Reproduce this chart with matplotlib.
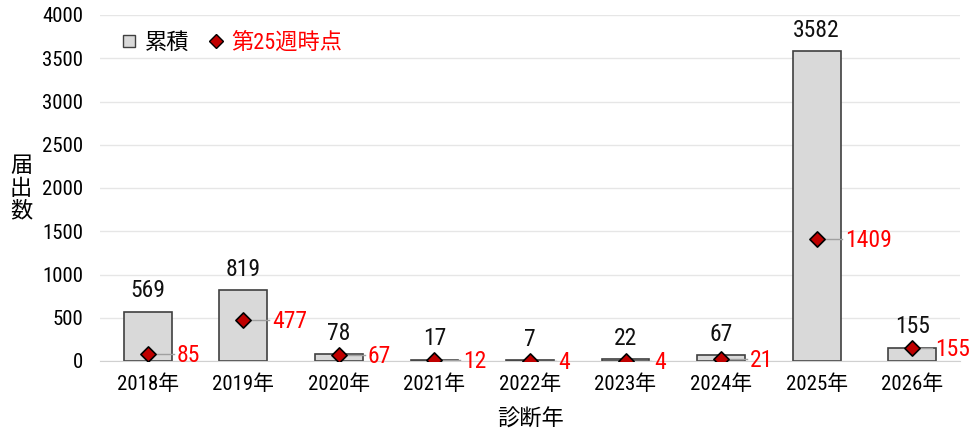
import matplotlib
matplotlib.use("Agg")
import matplotlib.pyplot as plt
from matplotlib.lines import Line2D

plt.rcParams['font.family'] = ['Roboto Condensed', 'Noto Sans CJK JP', 'DejaVu Sans']

years = ["2018年", "2019年", "2020年", "2021年", "2022年", "2023年", "2024年", "2025年", "2026年"]
cumulative = [569, 819, 78, 17, 7, 22, 67, 3582, 155]
week25 = [85, 477, 67, 12, 4, 4, 21, 1409, 155]

fig = plt.figure(figsize=(9.71, 4.34), dpi=100)
ax = fig.add_axes([100/971, 1-361/434, 860/971, (361-15)/434])

x = list(range(len(years)))
ax.bar(x, cumulative, width=0.5, color="#d9d9d9", edgecolor="#404040", linewidth=1.2, zorder=2)

n = len(x)
for xi, c, w in zip(x, cumulative, week25):
    off = 0.24 if xi == n - 1 else 0.3
    ax.text(xi, c + 110, str(c), ha="center", va="bottom", fontsize=17, color="#111111")
    ax.plot([xi, xi + off - 0.03], [w, w], color="#a0a0a0", lw=1, zorder=3)
    ax.text(xi + off, w - 20, str(w), ha="left", va="center", fontsize=17, color="#ff0000", clip_on=False)

ax.scatter(x, week25, marker="D", s=60, color="#c00000", edgecolor="black", linewidth=1.2, zorder=4)

ax.set_xlim(-0.5, 8.5)
ax.set_ylim(0, 4000)
ax.set_yticks(range(0, 4001, 500))
ax.set_xticks(x)
ax.set_xticklabels(years)
ax.tick_params(axis="both", length=0, labelsize=15)
ax.tick_params(axis="x", pad=10)
ax.tick_params(axis="y", pad=12)
ax.grid(axis="y", color="#e6e6e6", lw=1, zorder=0)
ax.set_axisbelow(True)
for s in ["top", "right", "left"]:
    ax.spines[s].set_visible(False)
ax.spines["bottom"].set_color("#d0d0d0")

ax.set_xlabel("診断年", fontsize=16, labelpad=11)
fig.text(21/971, 1-189/434, "届\n出\n数", ha="center", va="center", fontsize=16, linespacing=1.1)

handles = [
    Line2D([], [], marker="s", linestyle="none", markersize=8, markerfacecolor="#d9d9d9", markeredgecolor="#404040"),
    Line2D([], [], marker="D", linestyle="none", markersize=7, markerfacecolor="#c00000", markeredgecolor="black"),
]
leg = ax.legend(handles, ["累積", "第25週時点"], loc="upper left", ncol=2, frameon=False, fontsize=16,
                handletextpad=0.1, columnspacing=0.6, handlelength=1.2,
                bbox_to_anchor=(0.0, 0.995), borderaxespad=0.3)
leg.get_texts()[1].set_color("#ff0000")

fig.savefig("out.png", dpi=100)
